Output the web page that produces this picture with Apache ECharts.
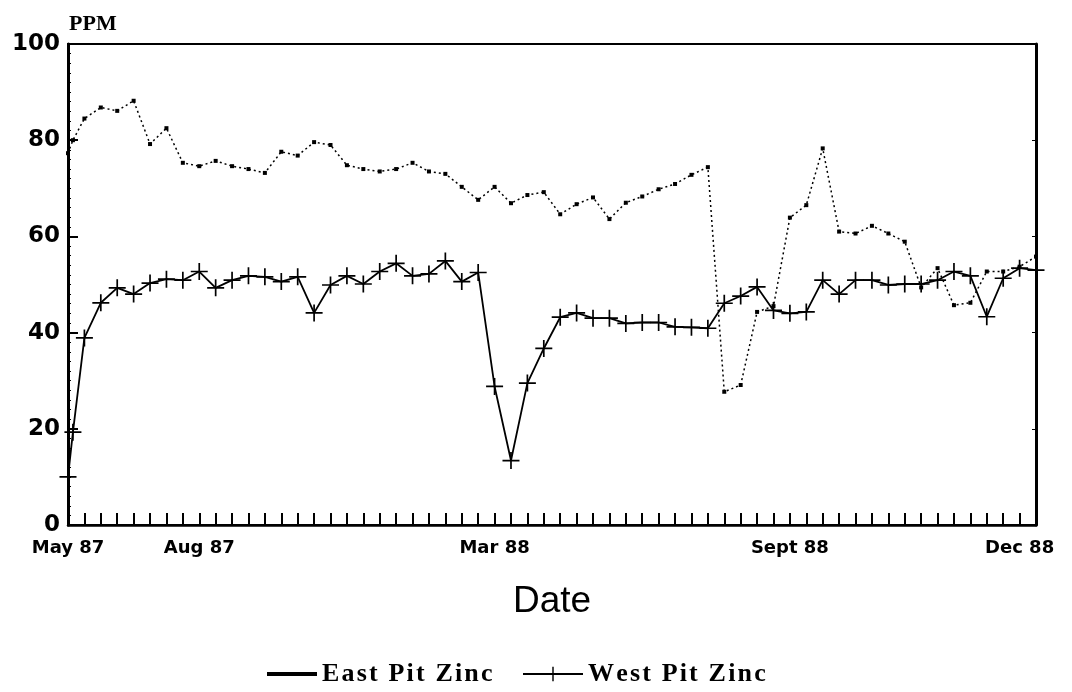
<!DOCTYPE html>
<html>
<head>
<meta charset="utf-8">
<script src="https://cdn.jsdelivr.net/npm/echarts@6/dist/echarts.min.js"></script>
<style>
  html, body { margin: 0; padding: 0; background: #fff; }
  #chart { width: 1072px; height: 692px; }
</style>
</head>
<body>
<div id="chart"></div>
<script>
// Sample positions along the date axis (sample number; first two samples taken close together)
const samplePos = [0, 0.3, 1, 2, 3, 4, 5, 6, 7, 8, 9, 10, 11, 12, 13, 14, 15, 16, 17, 18, 19,
  20, 21, 22, 23, 24, 25, 26, 27, 28, 29, 30, 31, 32, 33, 34, 35, 36, 37, 38, 39,
  40, 41, 42, 43, 44, 45, 46, 47, 48, 49, 50, 51, 52, 53, 54, 55, 56, 57, 58, 59];

// East Pit Zinc (PPM)
const eastZinc = [77.3, 80.0, 84.5, 86.8, 86.1, 88.2, 79.2, 82.5, 75.3, 74.6, 75.7,
  74.6, 74.0, 73.2, 77.6, 76.8, 79.6, 79.0, 74.8, 74.0, 73.5,
  74.0, 75.3, 73.5, 73.0, 70.3, 67.6, 70.3, 66.9, 68.6, 69.2,
  64.6, 66.7, 68.1, 63.6, 67.0, 68.3, 69.8, 70.9, 72.8, 74.4,
  27.7, 29.1, 44.3, 45.5, 63.9, 66.5, 78.3, 61.0, 60.6, 62.2,
  60.6, 58.9, 49.4, 53.4, 45.7, 46.2, 52.7, 52.7, 53.7, 55.8];

// West Pit Zinc (PPM)
const westZinc = [10.0, 19.3, 38.9, 46.2, 49.3, 48.0, 50.3, 51.1, 50.9, 52.7, 49.3,
  50.9, 51.8, 51.6, 50.6, 51.6, 44.1, 49.9, 51.8, 50.1, 52.7,
  54.4, 51.8, 52.2, 54.9, 50.6, 52.5, 28.8, 13.4, 29.5, 36.7,
  43.2, 44.1, 43.0, 43.0, 41.9, 42.1, 42.1, 41.2, 41.1, 40.9,
  46.1, 47.6, 49.5, 44.6, 44.0, 44.3, 50.9, 48.0, 50.9, 50.9,
  49.9, 50.1, 50.1, 50.9, 52.7, 51.8, 43.3, 51.3, 53.4, 53.0];

// Date tick labels and the sample positions they sit at
const dateTickPos = [0, 8, 26, 44, 58];
const dateTickLabels = ['May 87', 'Aug 87', 'Mar 88', 'Sept 88', 'Dec 88'];

const yTicks = [0, 20, 40, 60, 80, 100];

const eastData = samplePos.map((p, i) => [p, eastZinc[i]]);
const westData = samplePos.map((p, i) => [p, westZinc[i]]);

const crossPath = 'path://M9,0H11V20H9Z M0,9H20V11H0Z';

// widen legend text spacing like the original typesetting
const spaced = (name) => name.split('').join('\u200A');

const legendText = { fontFamily: 'Liberation Serif', fontWeight: 'bold', fontSize: 26, color: '#000' };

const chart = echarts.init(document.getElementById('chart'), null, { renderer: 'canvas' });

const option = {
  backgroundColor: '#fff',
  animation: false,
  title: {
    text: 'PPM',
    left: 64,
    top: 8,
    textStyle: { fontFamily: 'Liberation Serif', fontWeight: 'bold', fontSize: 22, color: '#000' }
  },
  grid: {
    left: 68, right: 36, top: 44, bottom: 167,
    show: true, borderColor: '#000', borderWidth: 2, backgroundColor: 'transparent'
  },
  legend: [
    {
      data: [{ name: 'East Pit Zinc', icon: 'rect', itemStyle: { color: '#000' } }],
      left: 262, top: 656,
      itemWidth: 50, itemHeight: 4, itemGap: 6,
      formatter: spaced,
      textStyle: legendText
    },
    {
      data: ['West Pit Zinc'],
      left: 517, top: 656,
      itemWidth: 60, itemHeight: 18,
      formatter: spaced,
      textStyle: legendText
    }
  ],
  xAxis: {
    type: 'value',
    min: 0, max: 59, interval: 1,
    name: 'Date',
    nameLocation: 'middle',
    nameGap: 58,
    nameTextStyle: { fontFamily: 'Liberation Sans', fontSize: 37, color: '#000' },
    axisLine: { show: true, lineStyle: { color: '#000', width: 2.5 } },
    axisTick: { show: true, inside: true, length: 12, lineStyle: { color: '#000', width: 2 } },
    splitLine: { show: false },
    axisLabel: {
      margin: 14,
      fontFamily: 'DejaVu Sans', fontWeight: 'bold', fontSize: 18, color: '#000',
      showMinLabel: true, showMaxLabel: true,
      formatter: function (v) {
        const idx = dateTickPos.indexOf(Math.round(v * 100) / 100);
        return idx >= 0 ? dateTickLabels[idx] : '';
      }
    }
  },
  yAxis: [
    {
      type: 'value',
      min: 0, max: 100, interval: 20,
      position: 'left',
      axisLine: { show: true, lineStyle: { color: '#000', width: 3 } },
      axisTick: { show: true, inside: true, length: 10, lineStyle: { color: '#000', width: 2 } },
      minorTick: { show: true, splitNumber: 10, length: 3, lineStyle: { color: '#000', width: 1 } },
      splitLine: { show: false },
      axisLabel: {
        margin: 8,
        fontFamily: 'DejaVu Sans', fontWeight: 'bold', fontSize: 23, color: '#000',
        formatter: function (v) { return yTicks.indexOf(v) >= 0 ? String(v) : ''; }
      }
    },
    {
      type: 'value',
      min: 0, max: 100, interval: 20,
      position: 'right',
      axisLine: { show: true, lineStyle: { color: '#000', width: 3 } },
      axisTick: { show: true, inside: true, length: 4, lineStyle: { color: '#000', width: 1 } },
      splitLine: { show: false },
      axisLabel: { show: false }
    }
  ],
  series: [
    {
      name: 'East Pit Zinc',
      type: 'line',
      data: eastData,
      yAxisIndex: 0,
      symbol: 'rect',
      symbolSize: 4,
      showAllSymbol: true,
      itemStyle: { color: '#000' },
      lineStyle: { color: '#000', width: 1.5, type: [2, 3] },
      z: 2
    },
    {
      name: 'West Pit Zinc',
      type: 'line',
      data: westData,
      yAxisIndex: 0,
      symbol: crossPath,
      symbolSize: 17,
      showAllSymbol: true,
      itemStyle: { color: '#000' },
      lineStyle: { color: '#000', width: 1.8 },
      z: 3
    }
  ]
};

chart.setOption(option);
</script>
</body>
</html>
